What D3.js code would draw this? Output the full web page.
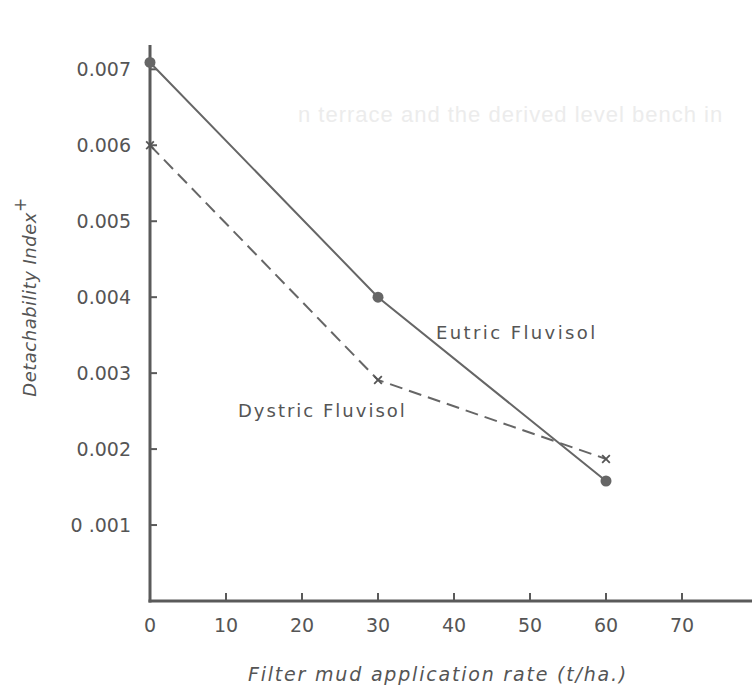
<!DOCTYPE html>
<html lang="en">
<head>
<meta charset="UTF-8">
<title>Detachability Index</title>
<script src="https://d3js.org/d3.v7.min.js"></script>
<style>
  body { margin: 0; background: #fff; }
  text { font-family: "DejaVu Sans", sans-serif; fill: #555; }
</style>
</head>
<body>
<svg width="752" height="693"></svg>
<script>
// data
const rates = [0, 30, 60];
const eutric = [0.00709, 0.0040, 0.00158];
const dystric = [0.0060, 0.00291, 0.00187];
const xTicks = [0, 10, 20, 30, 40, 50, 60, 70];
const yTicks = [0.001, 0.002, 0.003, 0.004, 0.005, 0.006, 0.007];
const yTickLabels = ["0 .001", "0.002", "0.003", "0.004", "0.005", "0.006", "0.007"];

const svg = d3.select("svg");
const ink = "#5a5a5a";

// scales: origin at (150, 601)
const x = d3.scaleLinear().domain([0, 80]).range([150, 758]);
const y = d3.scaleLinear().domain([0, 0.00732]).range([601, 45]);

// faint show-through text from the scanned page
svg.append("text")
  .attr("x", 298).attr("y", 122)
  .style("font-family", "'Liberation Sans', sans-serif")
  .style("font-size", "22px")
  .style("fill", "#ececec")
  .style("letter-spacing", "1px")
  .text("n terrace and the derived level bench in");

// axes
const axisG = svg.append("g");
axisG.append("line")
  .attr("x1", x(0)).attr("x2", x(0))
  .attr("y1", 45).attr("y2", y(0) + 1.5)
  .attr("stroke", ink).attr("stroke-width", 3);
axisG.append("line")
  .attr("x1", x(0) - 1.5).attr("x2", 752)
  .attr("y1", y(0)).attr("y2", y(0))
  .attr("stroke", ink).attr("stroke-width", 3);

// y ticks (pointing inward) and labels
axisG.selectAll(".ytick")
  .data(yTicks)
  .join("line")
  .attr("x1", x(0)).attr("x2", x(0) + 7)
  .attr("y1", d => y(d)).attr("y2", d => y(d))
  .attr("stroke", ink).attr("stroke-width", 2);

axisG.selectAll(".ylab")
  .data(yTicks)
  .join("text")
  .attr("x", 131)
  .attr("y", d => y(d) + 7)
  .attr("text-anchor", "end")
  .style("font-size", "19px")
  .text((d, i) => yTickLabels[i]);

// x ticks (pointing up) and labels
axisG.selectAll(".xtick")
  .data(xTicks.filter(d => d > 0))
  .join("line")
  .attr("x1", d => x(d)).attr("x2", d => x(d))
  .attr("y1", y(0)).attr("y2", y(0) - 8)
  .attr("stroke", ink).attr("stroke-width", 2);

axisG.selectAll(".xlab")
  .data(xTicks)
  .join("text")
  .attr("x", d => x(d))
  .attr("y", 632)
  .attr("text-anchor", "middle")
  .style("font-size", "19px")
  .text(d => d);

// axis titles
svg.append("text")
  .attr("transform", "translate(36,297) rotate(-90)")
  .attr("text-anchor", "middle")
  .style("font-size", "18px")
  .style("font-style", "italic")
  .style("letter-spacing", "0.5px")
  .text("Detachability Index")
  .append("tspan")
  .attr("dy", -10)
  .style("font-size", "17px")
  .text("+");

svg.append("text")
  .attr("x", 438).attr("y", 681)
  .attr("text-anchor", "middle")
  .style("font-size", "19px")
  .style("font-style", "italic")
  .style("letter-spacing", "1.8px")
  .text("Filter mud application rate (t/ha.)");

// lines
const line = d3.line().x(d => x(d[0])).y(d => y(d[1]));
const eutricPts = rates.map((r, i) => [r, eutric[i]]);
const dystricPts = rates.map((r, i) => [r, dystric[i]]);

svg.append("path")
  .datum(eutricPts)
  .attr("d", line)
  .attr("fill", "none")
  .attr("stroke", "#666")
  .attr("stroke-width", 2);

svg.append("path")
  .datum(dystricPts)
  .attr("d", line)
  .attr("fill", "none")
  .attr("stroke", "#666")
  .attr("stroke-width", 2)
  .attr("stroke-dasharray", "13,7");

// markers
svg.selectAll(".dot")
  .data(eutricPts)
  .join("circle")
  .attr("cx", d => x(d[0]))
  .attr("cy", d => y(d[1]))
  .attr("r", 5.5)
  .attr("fill", "#666");

const cross = d3.symbol().type(d3.symbolX).size(40);
svg.selectAll(".cross")
  .data(dystricPts)
  .join("path")
  .attr("d", cross)
  .attr("transform", d => `translate(${x(d[0])},${y(d[1])})`)
  .attr("stroke", "#555")
  .attr("stroke-width", 1.8)
  .attr("fill", "none");

// series labels
svg.append("text")
  .attr("x", 436).attr("y", 339)
  .style("font-size", "18px")
  .style("letter-spacing", "2.4px")
  .text("Eutric  Fluvisol");

svg.append("text")
  .attr("x", 238).attr("y", 417)
  .style("font-size", "18px")
  .style("letter-spacing", "2px")
  .text("Dystric  Fluvisol");
</script>
</body>
</html>
